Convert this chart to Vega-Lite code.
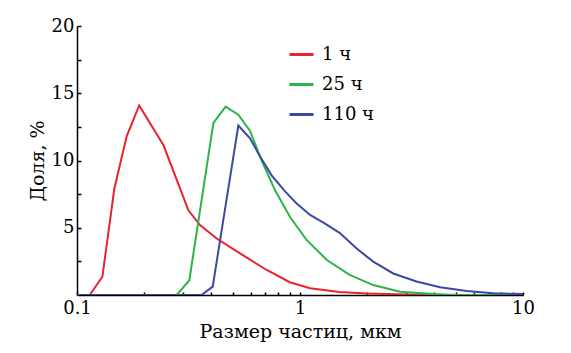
{
  "$schema": "https://vega.github.io/schema/vega-lite/v6.json",
  "width": 446,
  "height": 269,
  "autosize": {"type": "none"},
  "padding": {"left": 77, "top": 26, "right": 48, "bottom": 58},
  "background": "white",
  "config": {
    "view": {"stroke": null},
    "font": "DejaVu Serif"
  },
  "data": {
    "values": [
      {"series": "1 ч", "x": 0.1, "y": 0},
      {"series": "1 ч", "x": 0.114, "y": 0},
      {"series": "1 ч", "x": 0.13, "y": 1.36},
      {"series": "1 ч", "x": 0.147, "y": 7.9},
      {"series": "1 ч", "x": 0.167, "y": 11.8},
      {"series": "1 ч", "x": 0.19, "y": 14.1},
      {"series": "1 ч", "x": 0.244, "y": 11.15},
      {"series": "1 ч", "x": 0.316, "y": 6.3},
      {"series": "1 ч", "x": 0.356, "y": 5.2},
      {"series": "1 ч", "x": 0.423, "y": 4.2},
      {"series": "1 ч", "x": 0.538, "y": 3.1},
      {"series": "1 ч", "x": 0.709, "y": 1.86},
      {"series": "1 ч", "x": 0.9, "y": 0.95},
      {"series": "1 ч", "x": 1.11, "y": 0.5},
      {"series": "1 ч", "x": 1.5, "y": 0.22},
      {"series": "1 ч", "x": 2.0, "y": 0.12},
      {"series": "1 ч", "x": 3.0, "y": 0.03},
      {"series": "1 ч", "x": 4.0, "y": 0},
      {"series": "1 ч", "x": 10, "y": 0},
      {"series": "25 ч", "x": 0.1, "y": 0},
      {"series": "25 ч", "x": 0.28, "y": 0},
      {"series": "25 ч", "x": 0.319, "y": 1.1},
      {"series": "25 ч", "x": 0.409, "y": 12.8},
      {"series": "25 ч", "x": 0.464, "y": 14.0},
      {"series": "25 ч", "x": 0.529, "y": 13.4},
      {"series": "25 ч", "x": 0.597, "y": 12.2},
      {"series": "25 ч", "x": 0.673, "y": 10.0},
      {"series": "25 ч", "x": 0.772, "y": 7.8},
      {"series": "25 ч", "x": 0.902, "y": 5.8},
      {"series": "25 ч", "x": 1.07, "y": 4.1},
      {"series": "25 ч", "x": 1.32, "y": 2.6},
      {"series": "25 ч", "x": 1.67, "y": 1.5},
      {"series": "25 ч", "x": 2.13, "y": 0.74},
      {"series": "25 ч", "x": 2.81, "y": 0.25},
      {"series": "25 ч", "x": 3.95, "y": 0.07},
      {"series": "25 ч", "x": 5.0, "y": 0},
      {"series": "25 ч", "x": 10, "y": 0},
      {"series": "110 ч", "x": 0.1, "y": 0},
      {"series": "110 ч", "x": 0.362, "y": 0},
      {"series": "110 ч", "x": 0.406, "y": 0.62},
      {"series": "110 ч", "x": 0.529, "y": 12.6},
      {"series": "110 ч", "x": 0.597, "y": 11.65},
      {"series": "110 ч", "x": 0.662, "y": 10.3},
      {"series": "110 ч", "x": 0.746, "y": 8.9},
      {"series": "110 ч", "x": 0.857, "y": 7.7},
      {"series": "110 ч", "x": 0.966, "y": 6.8},
      {"series": "110 ч", "x": 1.11, "y": 5.95},
      {"series": "110 ч", "x": 1.29, "y": 5.33},
      {"series": "110 ч", "x": 1.51, "y": 4.6},
      {"series": "110 ч", "x": 1.79, "y": 3.47},
      {"series": "110 ч", "x": 2.13, "y": 2.48},
      {"series": "110 ч", "x": 2.62, "y": 1.6},
      {"series": "110 ч", "x": 3.33, "y": 1.0},
      {"series": "110 ч", "x": 4.25, "y": 0.57},
      {"series": "110 ч", "x": 5.59, "y": 0.3},
      {"series": "110 ч", "x": 7.36, "y": 0.13},
      {"series": "110 ч", "x": 10, "y": 0.07}
    ]
  },
  "mark": {"type": "line", "strokeWidth": 2, "clip": true},
  "encoding": {
    "x": {
      "field": "x",
      "type": "quantitative",
      "scale": {"type": "log", "domain": [0.1, 10], "nice": false},
      "axis": {
        "title": "Размер частиц, мкм",
        "titleFont": "DejaVu Serif",
        "titleFontSize": 19,
        "titleFontWeight": "normal",
        "titleColor": "black",
        "titlePadding": 5,
        "values": [0.1, 0.2, 0.3, 0.4, 0.5, 0.6, 0.7, 0.8, 0.9, 1, 2, 3, 4, 5, 6, 7, 8, 9, 10],
        "format": "~g",
        "labelExpr": "(datum.value == 0.1 || datum.value == 1 || datum.value == 10) ? datum.label : ''",
        "labelFont": "DejaVu Serif",
        "labelFontSize": 18,
        "labelColor": "black",
        "labelFlush": false,
        "labelOverlap": false,
        "labelPadding": 7,
        "tickSize": -3,
        "tickColor": "black",
        "tickWidth": 1.5,
        "domainColor": "black",
        "domainWidth": 1.5,
        "grid": false
      }
    },
    "y": {
      "field": "y",
      "type": "quantitative",
      "scale": {"domain": [0, 20], "nice": false},
      "axis": {
        "title": "Доля, %",
        "titleFont": "DejaVu Serif",
        "titleFontSize": 19,
        "titleFontWeight": "normal",
        "titleColor": "black",
        "titlePadding": 4,
        "values": [2.5, 5, 7.5, 10, 12.5, 15, 17.5, 20],
        "labelExpr": "datum.value % 5 === 0 ? datum.label : ''",
        "labelFont": "DejaVu Serif",
        "labelFontSize": 18,
        "labelColor": "black",
        "labelPadding": 7,
        "tickSize": -4,
        "tickColor": "black",
        "tickWidth": 1.5,
        "domainColor": "black",
        "domainWidth": 1.5,
        "grid": false
      }
    },
    "color": {
      "field": "series",
      "type": "nominal",
      "scale": {"domain": ["1 ч", "25 ч", "110 ч"], "range": ["#e8232e", "#2db34a", "#3b4aa0"]},
      "legend": {
        "title": null,
        "orient": "none",
        "legendX": 211,
        "legendY": 15,
        "symbolType": "stroke",
        "symbolSize": 576,
        "symbolStrokeWidth": 3,
        "labelFont": "DejaVu Serif",
        "labelFontSize": 18,
        "labelColor": "black",
        "labelOffset": 7,
        "rowPadding": 7
      }
    },
    "order": {"field": "x", "type": "quantitative"}
  }
}
